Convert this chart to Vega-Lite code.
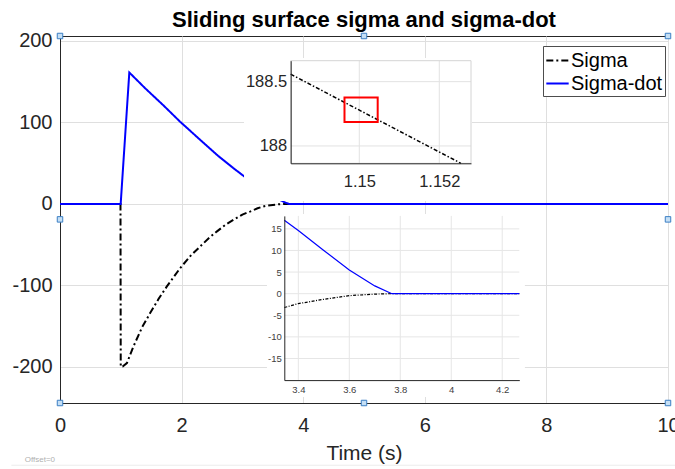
{
  "$schema": "https://vega.github.io/schema/vega-lite/v6.json",
  "width": 608,
  "height": 367,
  "autosize": {"type": "none"},
  "padding": {"left": 60, "top": 36, "right": 7, "bottom": 66},
  "background": "white",
  "config": {
    "view": {"stroke": "#262626", "strokeWidth": 1},
    "font": "Liberation Sans",
    "axis": {"labelFont": "Liberation Sans", "titleFont": "Liberation Sans", "labelColor": "#262626", "titleColor": "#262626", "domainColor": "#262626", "ticks": false, "tickSize": 0, "labelFlush": false, "labelOverlap": false, "titleFontWeight": "normal", "labelExpr": "'' + datum.value"},
    "legend": {"orient": "none", "legendX": 483, "legendY": 10, "symbolType": "stroke", "symbolSize": 500, "symbolStrokeWidth": 2, "labelFontSize": 20, "labelFont": "Liberation Sans", "labelColor": "#000000", "strokeColor": "#4d4d4d", "fillColor": "white", "padding": 2, "rowPadding": 0, "labelOffset": 1, "labelLimit": 300}
  },
  "title": {"text": "Sliding surface sigma and sigma-dot", "fontSize": 22, "fontWeight": "bold", "font": "Liberation Sans", "color": "#000000", "anchor": "middle", "frame": "group", "offset": -1},
  "datasets": {
    "main": [
      {"series": "Sigma", "t": 0, "v": 0},
      {"series": "Sigma", "t": 0.995, "v": 0},
      {"series": "Sigma", "t": 0.999, "v": -199.8},
      {"series": "Sigma", "t": 1.03, "v": -199.5},
      {"series": "Sigma", "t": 1.1, "v": -195.5},
      {"series": "Sigma", "t": 1.206, "v": -175.3},
      {"series": "Sigma", "t": 1.35, "v": -151.5},
      {"series": "Sigma", "t": 1.48, "v": -134.3},
      {"series": "Sigma", "t": 1.62, "v": -116.8},
      {"series": "Sigma", "t": 1.755, "v": -101.6},
      {"series": "Sigma", "t": 1.974, "v": -79},
      {"series": "Sigma", "t": 2.15, "v": -63.5},
      {"series": "Sigma", "t": 2.303, "v": -52.4},
      {"series": "Sigma", "t": 2.45, "v": -41.8},
      {"series": "Sigma", "t": 2.577, "v": -34},
      {"series": "Sigma", "t": 2.72, "v": -25.7},
      {"series": "Sigma", "t": 2.851, "v": -19.7},
      {"series": "Sigma", "t": 3.0, "v": -13.1},
      {"series": "Sigma", "t": 3.125, "v": -9.4},
      {"series": "Sigma", "t": 3.25, "v": -5.4},
      {"series": "Sigma", "t": 3.345, "v": -3.2},
      {"series": "Sigma", "t": 3.4, "v": -2.3},
      {"series": "Sigma", "t": 3.5, "v": -1.3},
      {"series": "Sigma", "t": 3.6, "v": -0.45},
      {"series": "Sigma", "t": 3.7, "v": -0.1},
      {"series": "Sigma", "t": 3.767, "v": 0},
      {"series": "Sigma", "t": 10, "v": 0},
      {"series": "Sigma-dot", "t": 0, "v": 0},
      {"series": "Sigma-dot", "t": 0.998, "v": 0},
      {"series": "Sigma-dot", "t": 1.14, "v": 161.3},
      {"series": "Sigma-dot", "t": 1.4, "v": 142},
      {"series": "Sigma-dot", "t": 1.7, "v": 121},
      {"series": "Sigma-dot", "t": 1.974, "v": 101},
      {"series": "Sigma-dot", "t": 2.3, "v": 79},
      {"series": "Sigma-dot", "t": 2.6, "v": 59},
      {"series": "Sigma-dot", "t": 2.85, "v": 44},
      {"series": "Sigma-dot", "t": 3.043, "v": 33},
      {"series": "Sigma-dot", "t": 3.2, "v": 25},
      {"series": "Sigma-dot", "t": 3.345, "v": 17},
      {"series": "Sigma-dot", "t": 3.4, "v": 14.6},
      {"series": "Sigma-dot", "t": 3.5, "v": 10},
      {"series": "Sigma-dot", "t": 3.6, "v": 5.5},
      {"series": "Sigma-dot", "t": 3.7, "v": 1.8},
      {"series": "Sigma-dot", "t": 3.767, "v": 0},
      {"series": "Sigma-dot", "t": 10, "v": 0}
    ],
    "handles": [
      {"t": 0, "v": 206.1}, {"t": 5, "v": 206.1}, {"t": 10, "v": 206.1},
      {"t": 0, "v": -19}, {"t": 10, "v": -19},
      {"t": 0, "v": -244.4}, {"t": 5, "v": -244.4}, {"t": 10, "v": -244.4}
    ],
    "insetTop": [
      {"t": 1.148285, "v": 188.558},
      {"t": 1.15254, "v": 187.865}
    ],
    "insetBottom": [
      {"series": "Sigma", "t": 3.345, "v": -3.2},
      {"series": "Sigma", "t": 3.4, "v": -2.3},
      {"series": "Sigma", "t": 3.5, "v": -1.3},
      {"series": "Sigma", "t": 3.6, "v": -0.45},
      {"series": "Sigma", "t": 3.7, "v": -0.1},
      {"series": "Sigma", "t": 3.767, "v": 0},
      {"series": "Sigma", "t": 4.267, "v": 0},
      {"series": "Sigma-dot", "t": 3.345, "v": 17},
      {"series": "Sigma-dot", "t": 3.4, "v": 14.6},
      {"series": "Sigma-dot", "t": 3.5, "v": 10},
      {"series": "Sigma-dot", "t": 3.6, "v": 5.5},
      {"series": "Sigma-dot", "t": 3.7, "v": 1.8},
      {"series": "Sigma-dot", "t": 3.767, "v": 0},
      {"series": "Sigma-dot", "t": 4.267, "v": 0}
    ],
    "topGridX": [{"g": 1.15}, {"g": 1.152}],
    "topGridY": [{"g": 188}, {"g": 188.5}],
    "botGridX": [{"g": 3.4}, {"g": 3.6}, {"g": 3.8}, {"g": 4}, {"g": 4.2}],
    "botGridY": [{"g": -15}, {"g": -10}, {"g": -5}, {"g": 0}, {"g": 5}, {"g": 10}, {"g": 15}]
  },
  "layer": [
    {
      "layer": [
        {
          "data": {"name": "main"},
          "mark": {"type": "line", "strokeWidth": 2},
          "encoding": {
            "x": {"field": "t", "type": "quantitative", "scale": {"domain": [0, 10], "nice": false, "zero": false},
              "axis": {"orient": "bottom", "values": [0, 2, 4, 6, 8, 10], "title": "Time (s)", "labelFontSize": 20, "titleFontSize": 21, "labelPadding": 12, "titlePadding": 7, "grid": true, "gridColor": "#dfdfdf", "zindex": 0}},
            "y": {"field": "v", "type": "quantitative", "scale": {"domain": [-244.4, 206.1], "nice": false, "zero": false},
              "axis": {"orient": "left", "values": [-200, -100, 0, 100, 200], "title": null, "labelFontSize": 20, "labelPadding": 8, "grid": true, "gridColor": "#dfdfdf", "zindex": 0}},
            "color": {"field": "series", "type": "nominal", "scale": {"domain": ["Sigma", "Sigma-dot"], "range": ["#000000", "#0000ff"]}, "legend": {"title": null}},
            "strokeDash": {"field": "series", "type": "nominal", "scale": {"domain": ["Sigma", "Sigma-dot"], "range": [[7, 3, 2, 3], [1, 0]]}, "legend": {"title": null}}
          }
        },
        {
          "data": {"name": "handles"},
          "mark": {"type": "point", "shape": "square", "filled": true, "size": 30, "fill": "#c5dff5", "stroke": "#3b7fc4", "strokeWidth": 1, "opacity": 1},
          "encoding": {
            "x": {"field": "t", "type": "quantitative"},
            "y": {"field": "v", "type": "quantitative"}
          }
        },
        {
          "data": {"values": [{}]},
          "mark": {"type": "rule", "color": "#ececec", "strokeWidth": 1},
          "encoding": {
            "x": {"datum": -0.8, "type": "quantitative"},
            "x2": {"datum": 10.12},
            "y": {"datum": -320.8, "type": "quantitative"}
          }
        },
        {
          "data": {"values": [{}]},
          "mark": {"type": "text", "align": "left", "baseline": "middle", "fontSize": 8, "color": "#b0b0b0", "font": "Liberation Sans"},
          "encoding": {
            "x": {"datum": -0.58, "type": "quantitative"},
            "y": {"datum": -314, "type": "quantitative"},
            "text": {"value": "Offset=0"}
          }
        }
      ]
    },
    {
      "layer": [
        {
          "data": {"values": [{}]},
          "mark": {"type": "rect", "fill": "white", "strokeWidth": 0},
          "encoding": {
            "x": {"datum": 1.147118, "type": "quantitative", "scale": {"domain": [1.148285, 1.152793], "range": [230.7, 411.0], "nice": false, "zero": false},
              "axis": {"orient": "bottom", "offset": -239.7, "values": [1.15, 1.152], "title": null, "grid": false, "labelFontSize": 16.5, "labelPadding": 10, "zindex": 1}},
            "x2": {"datum": 1.152818},
            "y": {"datum": 187.572, "type": "quantitative", "scale": {"domain": [187.865, 188.663], "range": [127.3, 24.7], "nice": false, "zero": false},
              "axis": {"orient": "left", "offset": -230.7, "values": [188, 188.5], "title": null, "grid": false, "labelFontSize": 16.5, "labelPadding": 4, "zindex": 1}},
            "y2": {"datum": 188.684}
          }
        },
        {
          "data": {"name": "topGridX"},
          "mark": {"type": "rule", "color": "#e2e2e2", "strokeWidth": 1},
          "encoding": {
            "x": {"field": "g", "type": "quantitative", "scale": {"domain": [1.148285, 1.152793], "range": [230.7, 411.0], "nice": false, "zero": false}},
            "y": {"datum": 187.865, "type": "quantitative", "scale": {"domain": [187.865, 188.663], "range": [127.3, 24.7], "nice": false, "zero": false}},
            "y2": {"datum": 188.663}
          }
        },
        {
          "data": {"name": "topGridY"},
          "mark": {"type": "rule", "color": "#e2e2e2", "strokeWidth": 1},
          "encoding": {
            "y": {"field": "g", "type": "quantitative", "scale": {"domain": [187.865, 188.663], "range": [127.3, 24.7], "nice": false, "zero": false}},
            "x": {"datum": 1.148285, "type": "quantitative", "scale": {"domain": [1.148285, 1.152793], "range": [230.7, 411.0], "nice": false, "zero": false}},
            "x2": {"datum": 1.152793}
          }
        },
        {
          "data": {"values": [{}]},
          "mark": {"type": "rect", "fillOpacity": 0, "stroke": "#d4d4d4", "strokeWidth": 1},
          "encoding": {
            "x": {"datum": 1.148285, "type": "quantitative", "scale": {"domain": [1.148285, 1.152793], "range": [230.7, 411.0], "nice": false, "zero": false}},
            "x2": {"datum": 1.152793},
            "y": {"datum": 187.865, "type": "quantitative", "scale": {"domain": [187.865, 188.663], "range": [127.3, 24.7], "nice": false, "zero": false}},
            "y2": {"datum": 188.663}
          }
        },
        {
          "data": {"name": "insetTop"},
          "mark": {"type": "line", "color": "#000000", "strokeWidth": 1.5, "strokeDash": [4, 2, 1.5, 2]},
          "encoding": {
            "x": {"field": "t", "type": "quantitative", "scale": {"domain": [1.148285, 1.152793], "range": [230.7, 411.0], "nice": false, "zero": false}},
            "y": {"field": "v", "type": "quantitative", "scale": {"domain": [187.865, 188.663], "range": [127.3, 24.7], "nice": false, "zero": false}}
          }
        },
        {
          "data": {"values": [{}]},
          "mark": {"type": "rect", "fillOpacity": 0, "stroke": "#ff0000", "strokeWidth": 2},
          "encoding": {
            "x": {"datum": 1.14963, "type": "quantitative", "scale": {"domain": [1.148285, 1.152793], "range": [230.7, 411.0], "nice": false, "zero": false}},
            "x2": {"datum": 1.15046},
            "y": {"datum": 188.187, "type": "quantitative", "scale": {"domain": [187.865, 188.663], "range": [127.3, 24.7], "nice": false, "zero": false}},
            "y2": {"datum": 188.376}
          }
        }
      ]
    },
    {
      "layer": [
        {
          "data": {"values": [{}]},
          "mark": {"type": "rect", "fill": "white", "strokeWidth": 0},
          "encoding": {
            "x": {"datum": 3.277, "type": "quantitative", "scale": {"domain": [3.345, 4.267], "range": [224.3, 459.3], "nice": false, "zero": false},
              "axis": {"orient": "bottom", "offset": -22.9, "values": [3.4, 3.6, 3.8, 4, 4.2], "title": null, "grid": false, "labelFontSize": 9.5, "labelPadding": 4, "labelColor": "#404040", "zindex": 1}},
            "x2": {"datum": 4.289},
            "y": {"datum": -23.9, "type": "quantitative", "scale": {"domain": [-20, 18], "range": [344.1, 179.9], "nice": false, "zero": false},
              "axis": {"orient": "left", "offset": -224.3, "values": [-15, -10, -5, 0, 5, 10, 15], "title": null, "grid": false, "labelFontSize": 9.5, "labelPadding": 3, "labelColor": "#404040", "zindex": 1}},
            "y2": {"datum": 18.45}
          }
        },
        {
          "data": {"name": "botGridX"},
          "mark": {"type": "rule", "color": "#e6e6e6", "strokeWidth": 1},
          "encoding": {
            "x": {"field": "g", "type": "quantitative", "scale": {"domain": [3.345, 4.267], "range": [224.3, 459.3], "nice": false, "zero": false}},
            "y": {"datum": -20, "type": "quantitative", "scale": {"domain": [-20, 18], "range": [344.1, 179.9], "nice": false, "zero": false}},
            "y2": {"datum": 18}
          }
        },
        {
          "data": {"name": "botGridY"},
          "mark": {"type": "rule", "color": "#e6e6e6", "strokeWidth": 1},
          "encoding": {
            "y": {"field": "g", "type": "quantitative", "scale": {"domain": [-20, 18], "range": [344.1, 179.9], "nice": false, "zero": false}},
            "x": {"datum": 3.345, "type": "quantitative", "scale": {"domain": [3.345, 4.267], "range": [224.3, 459.3], "nice": false, "zero": false}},
            "x2": {"datum": 4.267}
          }
        },
        {
          "data": {"name": "insetBottom"},
          "transform": [{"filter": "datum.series === 'Sigma'"}],
          "mark": {"type": "line", "color": "#000000", "strokeWidth": 1.2, "strokeDash": [3, 1.5, 1, 1.5]},
          "encoding": {
            "x": {"field": "t", "type": "quantitative", "scale": {"domain": [3.345, 4.267], "range": [224.3, 459.3], "nice": false, "zero": false}},
            "y": {"field": "v", "type": "quantitative", "scale": {"domain": [-20, 18], "range": [344.1, 179.9], "nice": false, "zero": false}}
          }
        },
        {
          "data": {"name": "insetBottom"},
          "transform": [{"filter": "datum.series === 'Sigma-dot'"}],
          "mark": {"type": "line", "color": "#0000ff", "strokeWidth": 1.2},
          "encoding": {
            "x": {"field": "t", "type": "quantitative", "scale": {"domain": [3.345, 4.267], "range": [224.3, 459.3], "nice": false, "zero": false}},
            "y": {"field": "v", "type": "quantitative", "scale": {"domain": [-20, 18], "range": [344.1, 179.9], "nice": false, "zero": false}}
          }
        }
      ]
    }
  ],
  "resolve": {"scale": {"x": "independent", "y": "independent"}, "axis": {"x": "independent", "y": "independent"}}
}
